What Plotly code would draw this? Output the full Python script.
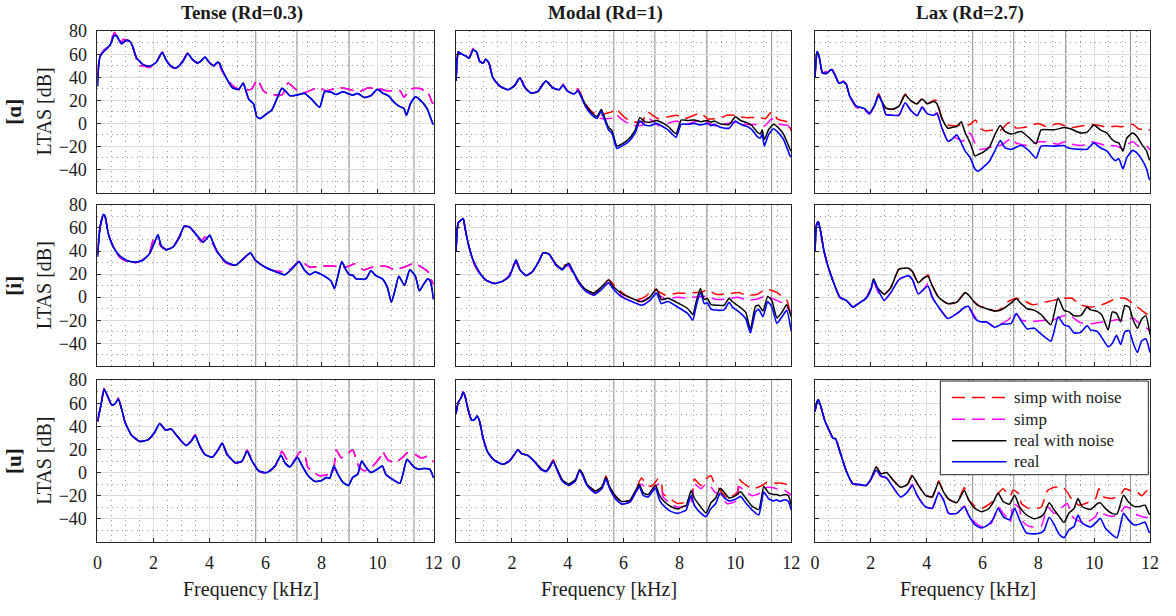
import plotly.graph_objects as go

# ---------------- data ----------------
SERIES_NAMES = ["simp with noise", "simp", "real with noise", "real"]
COL_TITLES = ["Tense (Rd=0.3)", "Modal (Rd=1)", "Lax (Rd=2.7)"]
ROW_LABELS = ["[ɑ]", "[i]", "[u]"]
X_TICKS = [0, 2, 4, 6, 8, 10, 12]
Y_TICKS = [-40, -20, 0, 20, 40, 60, 80]
FREQ_MARKERS = [5.65, 7.12, 8.98, 11.3]

# --- Tense [ɑ]
F_TA_REAL = [0, 0.04, 0.09, 0.21, 0.45, 0.59, 0.68, 0.75, 0.86, 0.92, 1.04, 1.16, 1.25, 1.39, 1.63, 1.86, 2.1, 2.31, 2.45, 2.63, 2.8, 3.04, 3.22, 3.39, 3.57, 3.69, 3.84, 3.98, 4.16, 4.28, 4.36, 4.45, 4.63, 4.81, 5.04, 5.2, 5.28, 5.4, 5.57, 5.69, 5.81, 6.05, 6.22, 6.4, 6.58, 6.7, 6.87, 7.1, 7.4, 7.64, 7.93, 8.11, 8.34, 8.52, 8.76, 8.93, 9.11, 9.29, 9.52, 9.76, 9.99, 10.17, 10.41, 10.58, 10.76, 10.94, 11.03, 11.17, 11.35, 11.53, 11.76, 11.97, 12.0]
TA_REAL = [32, 50, 58, 62, 68, 76, 76, 73, 69, 70, 72, 71, 67, 57, 51, 49.5, 53, 61.5, 55, 49.5, 48, 53.5, 60.5, 55.5, 52.5, 54, 57.5, 53, 50, 53, 52, 46.5, 38, 31, 29.5, 35, 29.7, 21, 17, 5.7, 4.3, 8.5, 11.5, 21, 30.5, 28.3, 24, 24.5, 26, 21, 14, 27.5, 27, 25, 27.5, 26, 24.5, 26, 22.5, 24, 29.5, 26.5, 23.5, 18.5, 15, 13, 7, 17, 23, 20, 13, 0, -1]
TA_REALN = [32, 50, 58, 62, 68, 76, 76, 73, 69, 70, 72, 71, 67, 57, 51, 49.5, 53, 61.5, 55, 49.5, 48, 53.5, 60.5, 55.5, 52.5, 54, 57.5, 53, 50, 53, 52, 46.5, 38, 31, 29.5, 35, 29.7, 21, 17, 5.7, 4.3, 8.5, 11.5, 21, 30.5, 28.3, 24, 24.5, 26, 21, 14, 27.5, 27, 25, 27.5, 26, 24.5, 26, 22.5, 24, 29.5, 26.5, 23.5, 18.5, 15, 13, 7, 17, 23, 20, 13, 0, -1]
F_TA_SIMP = [0, 0.04, 0.09, 0.21, 0.45, 0.6, 0.68, 0.75, 0.86, 0.92, 1.04, 1.16, 1.25, 1.39, 1.5, 1.63, 1.86, 2.1, 2.31, 2.45, 2.63, 2.8, 3.04, 3.22, 3.39, 3.57, 3.69, 3.84, 3.98, 4.16, 4.3, 4.45, 4.57, 4.81, 5.1, 5.5, 5.7, 5.93, 6.1, 6.4, 6.6, 6.8, 7.17, 7.3, 7.87, 8.0, 8.17, 8.58, 8.9, 9.3, 9.45, 9.64, 10.0, 10.2, 10.35, 10.8, 10.94, 11.17, 11.35, 11.59, 11.7, 11.82, 11.94, 12.0]
TA_SIMP = [40, 52, 58, 63, 68, 79, 76, 74, 70, 73, 72, 71, 67, 56, 50, 50, 48.5, 53, 62, 55, 49, 48, 54, 61, 55.5, 52.5, 54, 58, 53, 50, 54, 45, 41, 33, 29, 29.7, 38, 28, 25.5, 24.6, 25, 35, 27.5, 26, 31, 30, 28.3, 31, 30, 27.5, 28.5, 30.6, 30.6, 29, 28.3, 28.3, 22.6, 29.7, 30.5, 29.7, 25.5, 25.5, 18.4, 17]
TA_SIMPN = [40, 52, 58, 63, 68, 79, 76, 74, 70, 73, 72, 71, 67, 56, 50, 50, 48.5, 53, 62, 55, 49, 48, 54, 61, 55.5, 52.5, 54, 58, 53, 50, 54, 45, 41, 33, 29, 29.7, 38, 28, 25.5, 24.6, 25, 35, 27.5, 26, 31, 30, 28.3, 31, 30, 27.5, 28.5, 30.6, 30.6, 29, 28.3, 28.3, 22.6, 29.7, 30.5, 29.7, 25.5, 25.5, 18.4, 17]

# --- Modal [ɑ]
F_MA_REAL = [0, 0.04, 0.08, 0.14, 0.26, 0.38, 0.47, 0.61, 0.73, 0.85, 0.97, 1.06, 1.18, 1.32, 1.56, 1.86, 2.09, 2.29, 2.45, 2.68, 2.92, 3.22, 3.45, 3.69, 3.83, 3.98, 4.22, 4.37, 4.46, 4.63, 4.87, 5.05, 5.2, 5.28, 5.46, 5.58, 5.76, 5.93, 6.17, 6.41, 6.58, 6.76, 6.94, 7.18, 7.35, 7.59, 7.88, 8.06, 8.3, 8.53, 8.77, 9.0, 9.13, 9.24, 9.48, 9.78, 10.0, 10.19, 10.43, 10.6, 10.78, 10.9, 10.96, 11.04, 11.19, 11.37, 11.55, 11.73, 11.96, 12.0]
MA_REAL = [36.8, 55, 62, 61, 59.4, 58, 56.6, 63.6, 62.2, 53.7, 52.3, 55.7, 52.3, 39.6, 32.5, 29.2, 32.5, 39.6, 31.7, 26.3, 27.5, 36.8, 31.1, 29.2, 33.1, 28.3, 25.5, 28.3, 24.1, 15, 7.1, 4.3, 10.5, 5.7, -5.6, -8.4, -21.7, -19.7, -16, -8.4, 2, -1.4, -2, 0, -2, -5.6, -12, -0.8, -0.8, 0, -1.4, 0, -2, -0.8, -3.6, -4.2, 2, -0.8, -2.8, -5.6, -11.2, -12.7, -9, -19.7, -9.8, -4.7, -8.4, -14, -28.2, -29]
MA_REALN = [36.8, 55, 62, 61, 59.4, 58, 56.6, 63.6, 62.2, 53.7, 52.3, 55.7, 52.3, 39.6, 32.5, 29.2, 32.5, 39.6, 31.7, 26.3, 27.5, 36.8, 31.1, 29.2, 33.1, 28.3, 25.5, 28.3, 25, 16.5, 9, 6, 12, 7.5, -3.5, -6, -19.7, -18, -14, -6, 5, 1.5, 1, 2.5, 1, -2.5, -9, 2.9, 2.5, 3, 1.5, 2.5, 1, 2, -0.5, -1, 5.7, 2.5, 0.5, -2, -7.5, -9, -5.5, -14, -5.5, -0.8, -4, -9.5, -22.5, -24]
F_MA_SIMP = [0, 0.04, 0.08, 0.14, 0.26, 0.38, 0.47, 0.61, 0.73, 0.85, 0.97, 1.06, 1.18, 1.32, 1.56, 1.86, 2.09, 2.29, 2.45, 2.68, 2.92, 3.22, 3.45, 3.69, 3.83, 3.98, 4.22, 4.37, 4.46, 4.63, 4.87, 5.05, 5.2, 5.35, 5.58, 5.72, 5.88, 6.05, 6.3, 6.5, 6.68, 6.85, 7.1, 7.25, 7.9, 8.18, 8.77, 9.0, 9.25, 9.5, 9.7, 10.0, 10.2, 10.4, 10.9, 11.07, 11.3, 11.5, 11.6, 11.9, 12.0]
MA_SIMP = [36.8, 55, 62, 61, 59.4, 58, 56.6, 65, 62.2, 53.7, 52.3, 56.5, 52.3, 39.6, 32.5, 29.2, 32.5, 40.5, 31.7, 26.3, 27.5, 37.5, 31.1, 29.2, 34, 28.3, 25.5, 29.5, 25, 15, 8, 5, 4.3, 4, 4.5, 8, 4.5, 1.5, -1.5, -2, -1.5, 5, 1, -2, 2, -1, 3, 1, -2, -1, 0, 1, 0, -1, -1, -2, 4, 0, -1, -2, -10]
MA_SIMPN = [36.8, 55, 62, 61, 59.4, 58, 56.6, 65, 62.2, 53.7, 52.3, 56.5, 52.3, 39.6, 32.5, 29.2, 32.5, 40.5, 31.7, 26.3, 27.5, 37.5, 31.1, 29.2, 34, 28.3, 25.5, 30, 26, 17, 10, 7.5, 7, 8.5, 10, 13, 9, 5, 1.5, 1, 2, 10, 6, 4, 7, 4, 9, 4, 4, 5, 7, 7, 5.5, 5, 5, 4, 10, 4, 3, 1, -7]

# --- Lax [ɑ]
F_LA_REAL = [0, 0.04, 0.08, 0.15, 0.27, 0.41, 0.59, 0.71, 0.86, 1.0, 1.12, 1.24, 1.48, 1.77, 1.95, 2.13, 2.28, 2.42, 2.54, 2.78, 3.01, 3.23, 3.43, 3.66, 3.84, 4.02, 4.26, 4.37, 4.55, 4.76, 4.9, 5.08, 5.24, 5.38, 5.56, 5.73, 5.85, 6.03, 6.26, 6.44, 6.64, 6.8, 7.03, 7.39, 7.68, 7.92, 8.1, 8.57, 8.92, 9.04, 9.16, 9.52, 9.75, 9.99, 10.22, 10.46, 10.64, 10.76, 10.88, 11.03, 11.17, 11.38, 11.52, 11.7, 11.88, 11.97, 12.0]
LA_REAL = [39.6, 55, 62.2, 58, 43.8, 43.3, 46.7, 42.4, 34.8, 35.9, 34, 24, 15, 12.8, 8.5, 15, 24, 17, 7.7, 7.1, 7.1, 17.9, 11.4, 6.6, 14.2, 8.5, 7.1, 8.5, -4.2, -15.5, -14, -9.8, -16.9, -24, -29.6, -39.5, -41.5, -38, -32.4, -24, -14.9, -21.1, -22.5, -18.9, -24, -30.2, -19.7, -19.7, -19.2, -21, -21.7, -22.5, -22.5, -16.9, -21.1, -24, -29.6, -32.4, -30.5, -39.5, -29.6, -23.4, -25.4, -31, -39.5, -48, -49]
LA_REALN = [39.6, 55, 62.2, 58, 43.8, 43.3, 46.7, 42.4, 34.8, 35.9, 34, 24, 15, 12.8, 9, 15.5, 24.6, 18, 13.3, 12.2, 15, 24.6, 19.8, 17, 21.2, 17, 19, 17, 4.3, -4.2, -3.5, -2.8, 1.5, -8, -17, -28.2, -27, -25, -20, -10, -1.9, -7, -9.3, -7, -12.7, -17.7, -5.6, -5.6, -3.6, -4, -4.7, -8.4, -7.6, -1.4, -5.6, -8.4, -14, -16, -16.9, -24, -12.7, -8.4, -11, -18, -24, -31, -32]
F_LA_SIMP = [0, 0.04, 0.08, 0.15, 0.27, 0.41, 0.59, 0.71, 0.86, 1.0, 1.12, 1.24, 1.48, 1.77, 1.95, 2.13, 2.28, 2.42, 2.54, 2.78, 3.01, 3.23, 3.43, 3.66, 3.84, 4.02, 4.26, 4.37, 4.55, 4.76, 5.0, 5.3, 5.55, 5.75, 5.9, 6.1, 6.4, 6.65, 6.9, 7.05, 7.2, 7.6, 8.0, 8.3, 8.7, 8.95, 9.2, 9.6, 9.9, 10.1, 10.4, 10.8, 11.0, 11.2, 11.4, 11.6, 11.9, 12.0]
LA_SIMP = [39.6, 55, 62.2, 58, 43.8, 45, 48, 42.4, 34.8, 37, 34, 24, 14, 11.5, 8, 15, 25, 17, 7.7, 7.1, 7.1, 18, 11.4, 6.6, 14.2, 8.5, 7.1, 9.5, -4, -15, -12, -15.5, -8.4, -18, -22.5, -22, -20, -19, -15, -12.7, -17, -19, -16, -16, -18, -16, -18, -19, -16, -17, -19, -19.5, -22, -18, -16, -20, -20, -23]
LA_SIMPN = [39.6, 55, 62.2, 58, 43.8, 45, 48, 42.4, 34.8, 37, 34, 24, 14, 11.5, 9, 15.5, 26, 18, 13.3, 12.2, 15, 25.5, 19.8, 17, 22, 17, 20, 19.8, 4, -1.4, -2, -1.4, -1, 3, -4, -6.5, -5.6, -6, 0, 1, -4, -2.8, 0, -2.8, 0, -2, -3.5, -2, -1, -1.5, -3, -2.5, -3, -1, -1, -5, -5, -6]

# --- Tense [i]
F_TI_REAL = [0, 0.09, 0.21, 0.27, 0.39, 0.57, 0.8, 1.1, 1.39, 1.63, 1.86, 2.04, 2.16, 2.27, 2.45, 2.69, 2.92, 3.1, 3.28, 3.51, 3.77, 3.89, 4.01, 4.12, 4.28, 4.57, 4.93, 5.22, 5.46, 5.63, 5.99, 6.34, 6.69, 6.93, 7.2, 7.38, 7.58, 7.76, 8.11, 8.34, 8.46, 8.58, 8.72, 8.87, 8.99, 9.11, 9.23, 9.58, 9.76, 9.94, 10.17, 10.35, 10.49, 10.6, 10.76, 10.96, 11.15, 11.35, 11.49, 11.64, 11.79, 11.88, 12.0]
TI_REAL = [35, 60.3, 71.6, 70, 54.7, 43.4, 35.6, 31.3, 30.5, 32.2, 37.8, 47.7, 54.1, 44.8, 41.2, 43.4, 51.9, 61.7, 60.9, 54.7, 47.7, 50.5, 53.8, 47.7, 39.2, 30.8, 27.7, 33.6, 38.4, 32.2, 26, 22.3, 19.5, 24.3, 30.8, 23.7, 19.5, 21.8, 18.1, 13.9, 7.4, 18, 30.8, 23.7, 19.5, 19, 15.9, 15.9, 22.9, 18.7, 15.9, 8.3, -4.4, 4, 18.1, 10.2, 23.7, 18.1, 5.5, 11.1, 15.9, 14, -2.1]
TI_REALN = [35, 60.3, 71.6, 70, 54.7, 43.4, 35.6, 31.3, 30.5, 32.2, 37.8, 47.7, 54.1, 44.8, 41.2, 43.4, 51.9, 61.7, 60.9, 54.7, 47.7, 50.5, 53.8, 47.7, 39.2, 30.8, 27.7, 33.6, 38.4, 32.2, 26, 22.3, 19.5, 24.3, 30.8, 23.7, 19.5, 21.8, 18.1, 13.9, 7.4, 18, 30.8, 23.7, 19.5, 19, 15.9, 15.9, 22.9, 18.7, 15.9, 8.3, -4.4, 4, 18.1, 10.2, 23.7, 18.1, 5.5, 11.1, 15.9, 14, -2.1]
F_TI_SIMP = [0, 0.09, 0.21, 0.27, 0.39, 0.57, 0.8, 1.1, 1.39, 1.63, 1.86, 1.98, 2.1, 2.27, 2.45, 2.69, 2.92, 3.1, 3.28, 3.51, 3.7, 3.82, 3.95, 4.12, 4.28, 4.57, 4.93, 5.22, 5.46, 5.63, 5.99, 6.3, 6.69, 6.93, 7.2, 7.35, 7.58, 8.05, 8.4, 8.8, 9.0, 9.17, 9.5, 9.8, 10.17, 10.4, 10.58, 10.94, 11.3, 11.64, 11.8, 11.88, 12.0]
TI_SIMP = [38, 60.3, 71, 70, 54.7, 43.4, 34.5, 30.5, 30, 32.5, 38.5, 49, 50, 44, 41.2, 43.4, 52.5, 61, 61, 54.7, 48, 52, 51, 46, 39, 30, 27.7, 33.6, 38.4, 32, 26, 23, 22, 25, 31.5, 30, 26, 27, 27, 26, 27, 29, 23.7, 26, 27, 26, 24, 26, 29.3, 25, 22, 17, 11]
TI_SIMPN = [38, 60.3, 71, 70, 54.7, 43.4, 34.5, 30.5, 30, 32.5, 38.5, 49, 50, 44, 41.2, 43.4, 52.5, 61, 61, 54.7, 48, 52, 51, 46, 39, 30, 27.7, 33.6, 38.4, 32, 26, 23, 22, 25, 31.5, 30, 26, 27, 27, 26, 27, 29, 23.7, 26, 27, 26, 24, 26, 29.3, 25, 22, 17, 11]

# --- Modal [i]
F_MI_REAL = [0, 0.08, 0.2, 0.26, 0.32, 0.44, 0.61, 0.85, 1.09, 1.38, 1.68, 1.91, 2.03, 2.15, 2.29, 2.51, 2.74, 2.96, 3.12, 3.33, 3.57, 3.81, 3.9, 4.04, 4.18, 4.4, 4.63, 4.93, 5.22, 5.46, 5.64, 5.94, 6.29, 6.65, 6.94, 7.18, 7.35, 7.59, 7.94, 8.3, 8.48, 8.59, 8.75, 8.89, 9.0, 9.13, 9.36, 9.6, 9.78, 9.9, 10.13, 10.37, 10.54, 10.72, 10.84, 10.99, 11.16, 11.31, 11.49, 11.67, 11.84, 12.0]
MI_REAL = [39.2, 64.5, 67.3, 68.2, 60.3, 46.2, 32.2, 21, 14.5, 11.9, 13.9, 18.1, 25.1, 32.2, 23.7, 18.7, 22.3, 30.8, 38.4, 37.2, 28, 23.7, 26, 28.8, 22.3, 12.5, 5.5, 1.8, 6.9, 12.5, 6.9, 0, -3.7, -7, -2.8, 3.5, -5.6, -3.7, -8.6, -14.2, -19.9, -8.6, 4.1, -5.6, -4.8, -10.4, -11.4, -11, -4.4, -8.6, -12.8, -18.5, -31.1, -12.8, -10.5, -17, -3.8, -8.6, -22.7, -17, -11.4, -29.7]
MI_REALN = [39.2, 64.5, 67.3, 68.2, 60.3, 46.2, 32.2, 21, 14.5, 11.9, 13.9, 18.1, 25.1, 32.2, 23.7, 18.7, 22.3, 30.8, 38.4, 37.5, 28.5, 24.5, 27, 29.5, 23, 13.5, 7, 3.5, 9, 15, 9, 3, -1, -4, 0, 7, -2, -1, -5, -10, -15, -5, 7.5, -2, -1, -6.5, -7, -7, -1, -4, -8, -13, -28, -8, -7, -12, 0.7, -3, -18, -13, -6.6, -17]
F_MI_SIMP = [0, 0.08, 0.2, 0.26, 0.32, 0.44, 0.61, 0.85, 1.09, 1.38, 1.68, 1.91, 2.03, 2.15, 2.29, 2.51, 2.74, 2.96, 3.12, 3.33, 3.57, 3.81, 3.9, 4.04, 4.18, 4.4, 4.63, 4.93, 5.22, 5.46, 5.64, 5.94, 6.2, 6.5, 6.8, 7.1, 7.25, 7.5, 7.9, 8.2, 8.8, 9.0, 9.3, 9.7, 10.1, 10.4, 10.8, 11.1, 11.5, 11.7, 11.85, 12.0]
MI_SIMP = [39.2, 64.5, 67.3, 68.2, 60.3, 46.2, 31, 20, 14.5, 11.9, 13.9, 19, 27, 30, 23.7, 18.7, 22.3, 30.8, 38.4, 37.2, 28, 23.7, 27, 27, 21, 12, 5.5, 1.8, 6.9, 12.5, 8, 1, -3, -4, -2, 4, 2, -1.5, 0, -0.5, 0.5, 1, -2, -1.5, 0, -2.5, -1.5, 1, -3, -5, -8.6, -13]
MI_SIMPN = [39.2, 64.5, 67.3, 68.2, 60.3, 46.2, 31, 20, 14.5, 11.9, 13.9, 19, 27, 30, 23.7, 18.7, 22.3, 30.8, 38.4, 37.5, 28.5, 24.5, 28, 28, 22, 13, 7, 3.5, 9, 15, 11, 4, 0, -2, 1, 6.9, 5, 1.8, 3.5, 3.5, 4.5, 6.3, 2.6, 2.6, 4, 1.8, 2.6, 6.9, 4, 0, -3, -17]

# --- Lax [i]
F_LI_REAL = [0, 0.06, 0.12, 0.2, 0.32, 0.47, 0.65, 0.89, 1.12, 1.36, 1.54, 1.83, 2.01, 2.1, 2.25, 2.48, 2.72, 3.01, 3.35, 3.49, 3.7, 3.9, 4.05, 4.2, 4.43, 4.76, 5.08, 5.38, 5.5, 5.73, 5.91, 6.15, 6.44, 6.68, 7.03, 7.21, 7.39, 7.6, 7.86, 8.1, 8.45, 8.71, 8.92, 9.1, 9.28, 9.52, 9.75, 9.87, 10.11, 10.28, 10.5, 10.65, 10.8, 10.95, 11.1, 11.25, 11.4, 11.55, 11.7, 11.85, 12.0]
LI_REAL = [39.2, 63.1, 65.4, 57.5, 40.6, 26.6, 13.9, 0, -2.8, -8.6, -5.8, -1, 6.9, 14.7, 6.9, -2.8, 4.1, 15.3, 18.7, 15.3, 2.8, 6.9, 9.7, 0, -8.6, -18.5, -14.2, -8.6, -8, -18.5, -21.3, -21.5, -26.3, -23.5, -22.7, -14.2, -20.7, -27.5, -26.9, -32, -38.1, -17, -24, -25.5, -31, -30.5, -24.7, -28.3, -29.7, -35.3, -43, -40, -33, -41, -30, -29, -40, -48, -38, -36, -48]
LI_REALN = [39.2, 63.1, 65.4, 57.5, 40.6, 26.6, 13.9, 0, -2.8, -8.6, -5.8, -1, 7.5, 15.9, 8, 2.6, 8.3, 24.3, 25.1, 22.3, 12.5, 16.7, 18.1, 10, 0, -5.6, -4.4, 4.1, 2, -5, -8, -10, -12, -11, -5, -1.4, -5.6, -10, -11.4, -15, -24, -0.8, -11.4, -12.8, -16.2, -16, -8.6, -11, -12.3, -15.6, -28.3, -12.8, -14, -21.3, -7.2, -8.6, -20, -27, -19, -16, -32.5]
F_LI_SIMP = [0, 0.06, 0.12, 0.2, 0.32, 0.47, 0.65, 0.89, 1.12, 1.36, 1.54, 1.83, 2.01, 2.1, 2.25, 2.48, 2.72, 3.01, 3.35, 3.49, 3.7, 3.9, 4.05, 4.2, 4.43, 4.76, 5.08, 5.38, 5.5, 5.73, 5.91, 6.15, 6.44, 6.68, 6.9, 7.2, 7.4, 7.8, 8.2, 8.5, 8.9, 9.2, 9.5, 9.9, 10.2, 10.5, 10.8, 11.1, 11.4, 11.7, 11.9, 12.0]
LI_SIMP = [39.2, 63.1, 65.4, 57.5, 40.6, 26.6, 13.9, 0, -2.8, -8.6, -5.8, -1, 8, 13, 5, -2.8, 4.1, 15.3, 18.7, 15.3, 2.8, 6.9, 12, 0, -8.6, -18.5, -14.2, -8.6, -8, -17, -21, -21.5, -26, -23, -20, -14, -20, -21, -20, -20, -16, -17, -22, -23, -22, -21, -19.5, -20, -18, -25, -27, -30]
LI_SIMPN = [39.2, 63.1, 65.4, 57.5, 40.6, 26.6, 13.9, 0, -2.8, -8.6, -5.8, -1, 8.5, 14.5, 6, 2.6, 8.3, 24.3, 25.1, 22.3, 12.5, 16.7, 19.5, 10, -0.5, -5.6, -4.4, 4.1, 2, -4.5, -8, -9, -12, -10, -4, -1, -2, -6.6, -4.4, -3, -1, -1, -6.6, -8.6, -7.2, -4.4, -1, -1, -5.6, -11.4, -15, -18]

# --- Tense [u]
F_TU_REAL = [0, 0.12, 0.24, 0.33, 0.51, 0.62, 0.74, 0.86, 0.98, 1.21, 1.51, 1.8, 2.04, 2.22, 2.43, 2.63, 2.86, 3.16, 3.34, 3.49, 3.63, 3.84, 4.1, 4.31, 4.45, 4.63, 4.93, 5.16, 5.34, 5.52, 5.75, 6.05, 6.34, 6.55, 6.69, 6.87, 7.14, 7.28, 7.52, 7.76, 7.99, 8.17, 8.29, 8.44, 8.58, 8.76, 8.96, 9.11, 9.29, 9.43, 9.58, 9.76, 9.99, 10.17, 10.29, 10.52, 10.8, 11.05, 11.29, 11.5, 11.65, 11.86, 12.0]
TU_REAL = [43.8, 58, 72.1, 67.9, 58.5, 59.4, 63.6, 55.1, 43.8, 32.5, 26.9, 28.3, 34.8, 42.4, 36.8, 37.6, 31.1, 23.5, 26.9, 32, 24, 15.6, 13.3, 19.8, 25.5, 15.6, 8.5, 9.9, 18.4, 9.9, 1.5, 0, 5.7, 15, 8.5, 4.9, 13.3, 7.1, -2.8, -7.6, -7, -4.2, -5, 5.7, -1.4, -8.4, -11.2, -4.2, -1.4, 9.9, 4.9, 0, 2.9, 5.7, -1.4, -5.6, -9.3, 11.4, 4.9, 2.9, 3.5, 2.9, -4.7]
TU_REALN = [43.8, 58, 72.1, 67.9, 58.5, 59.4, 63.6, 55.1, 43.8, 32.5, 26.9, 28.3, 34.8, 42.4, 36.8, 37.6, 31.1, 23.5, 26.9, 32, 24, 15.6, 13.3, 19.8, 25.5, 15.6, 8.5, 9.9, 18.4, 9.9, 1.5, 0, 5.7, 15, 8.5, 4.9, 13.3, 7.1, -2.8, -7.6, -7, -4.2, -5, 5.7, -1.4, -8.4, -11.2, -4.2, -1.4, 9.9, 4.9, 0, 2.9, 5.7, -1.4, -5.6, -9.3, 11.4, 4.9, 2.9, 3.5, 2.9, -4.7]
F_TU_SIMP = [0, 0.12, 0.24, 0.33, 0.51, 0.62, 0.74, 0.86, 0.98, 1.21, 1.51, 1.8, 2.04, 2.22, 2.43, 2.63, 2.86, 3.16, 3.34, 3.49, 3.63, 3.84, 4.1, 4.31, 4.45, 4.63, 4.93, 5.16, 5.34, 5.52, 5.75, 6.05, 6.34, 6.58, 6.81, 7.0, 7.23, 7.4, 7.5, 7.64, 7.93, 8.4, 8.52, 8.7, 8.82, 9.11, 9.25, 9.35, 9.52, 9.7, 9.88, 10.11, 10.17, 10.35, 10.58, 10.88, 11.05, 11.23, 11.35, 11.53, 11.65, 11.76, 11.97, 12.0]
TU_SIMP = [45, 58, 73, 67.9, 58.5, 59.4, 64.5, 55.1, 43.8, 32.5, 26.9, 28.3, 34.8, 42.4, 36.8, 37.6, 31.1, 23.5, 27.5, 33, 24, 15.6, 13.3, 19.8, 25.5, 15.6, 8, 9.9, 19.5, 9.9, 1.5, -1, 5.7, 18.4, 9.9, 10, 17.9, 15, 5, 1.5, -2.8, 0, 19.8, 12.8, 14, 19.8, 10, 4.3, 1.5, 3, 7, 14, 18.4, 11.4, 8.5, 12.8, 17, 17, 15.6, 12.8, 13, 14, 9.9, 9]
TU_SIMPN = [45, 58, 73, 67.9, 58.5, 59.4, 64.5, 55.1, 43.8, 32.5, 26.9, 28.3, 34.8, 42.4, 36.8, 37.6, 31.1, 23.5, 27.5, 33, 24, 15.6, 13.3, 19.8, 25.5, 15.6, 8, 9.9, 19.5, 9.9, 1.5, -1, 5.7, 18.4, 9.9, 10, 17.9, 15, 5, 1.5, -2.8, 0, 19.8, 12.8, 14, 19.8, 10, 4.3, 1.5, 3, 7, 14, 18.4, 11.4, 8.5, 12.8, 17, 17, 15.6, 12.8, 13, 14, 9.9, 9]

# --- Modal [u]
F_MU_REAL = [0, 0.08, 0.17, 0.26, 0.32, 0.44, 0.56, 0.67, 0.76, 0.85, 0.97, 1.15, 1.38, 1.68, 1.91, 2.09, 2.21, 2.36, 2.56, 2.77, 3.04, 3.22, 3.33, 3.48, 3.63, 3.81, 4.04, 4.28, 4.42, 4.52, 4.69, 4.99, 5.22, 5.37, 5.48, 5.7, 5.93, 6.23, 6.41, 6.56, 6.7, 6.88, 7.14, 7.29, 7.47, 7.71, 7.94, 8.12, 8.24, 8.42, 8.53, 8.71, 8.95, 9.13, 9.3, 9.46, 9.6, 9.78, 10.01, 10.19, 10.37, 10.6, 10.84, 11.02, 11.19, 11.37, 11.48, 11.6, 11.78, 11.9, 12.0]
MU_REAL = [50.9, 60.8, 64.2, 69.3, 66.4, 53.7, 45.3, 46.1, 48.9, 43.8, 29.7, 17, 10.5, 7.1, 9.9, 15.6, 19.8, 16.2, 15, 10.5, 2.8, 0.8, 3.6, 9.4, 1.5, -7.6, -11.2, -7, 1.5, -1.4, -11.2, -17.7, -14, -5.6, -12.7, -22.5, -27.3, -25.4, -18.3, -12.1, -19.7, -21.1, -13.5, -24, -29.6, -33.8, -35.3, -33.8, -32.4, -19.7, -28.2, -33.8, -38.1, -31, -26.8, -17.7, -21.7, -24.5, -23, -20.6, -26.2, -32.4, -36.7, -16.9, -22.5, -24.5, -23.5, -25, -23.5, -25, -32.4]
MU_REALN = [50.9, 60.8, 64.2, 69.3, 66.4, 53.7, 45.3, 46.1, 48.9, 43.8, 29.7, 17, 10.5, 7.1, 9.9, 15.6, 19.8, 16.2, 15, 10.5, 3.5, 1.5, 4.3, 10, 2.5, -6.5, -10, -6, 2.5, -0.5, -10, -16, -12.5, -4, -11, -20, -25, -24, -16.5, -10, -17.5, -19, -11, -20, -25.5, -29.6, -31.5, -29.3, -28.5, -15.5, -22, -28, -35, -26, -22, -13.5, -17, -22, -20, -16.5, -22, -29, -32, -12, -17.5, -19, -19, -20, -19, -20, -28]
F_MU_SIMP = [0, 0.08, 0.17, 0.26, 0.32, 0.44, 0.56, 0.67, 0.76, 0.85, 0.97, 1.15, 1.38, 1.68, 1.91, 2.09, 2.21, 2.36, 2.56, 2.77, 3.04, 3.22, 3.33, 3.48, 3.63, 3.81, 4.04, 4.28, 4.42, 4.52, 4.69, 4.99, 5.22, 5.37, 5.48, 5.7, 5.93, 6.23, 6.41, 6.64, 6.82, 7.0, 7.24, 7.35, 7.41, 7.65, 7.94, 8.42, 8.53, 8.77, 8.95, 9.13, 9.25, 9.42, 9.72, 10.07, 10.13, 10.25, 10.6, 10.96, 11.13, 11.31, 11.5, 11.78, 12.0]
MU_SIMP = [50.9, 60.8, 64.2, 70, 66.4, 53.7, 45.3, 46.1, 48.9, 43.8, 29.7, 17, 10.5, 7.1, 9.9, 15.6, 20, 16.2, 15, 10.5, 2.8, 0.8, 3.6, 10.5, 1.5, -7.6, -11.2, -7, 1.5, -1.4, -11.2, -17.7, -14, -4.5, -12.7, -22.5, -27.3, -25.4, -18.3, -9.8, -14, -16, -9.8, -12, -21, -26, -30, -27.3, -9.8, -14, -9.8, -12.5, -16.5, -19, -27, -24, -12, -14, -20, -16.9, -12.7, -13, -14, -15.5, -19.7]
MU_SIMPN = [50.9, 60.8, 64.2, 70, 66.4, 53.7, 45.3, 46.1, 48.9, 43.8, 29.7, 17, 10.5, 7.1, 9.9, 15.6, 20, 16.2, 15, 10.5, 3.5, 1.5, 4.3, 11, 2.5, -6.5, -10, -6, 2.5, -0.5, -10, -16, -12.5, -3, -11, -20, -25, -24, -16.5, -4.8, -10.4, -12, -5.6, -8.4, -18.3, -22.5, -26.8, -24, -5.6, -11.2, -5.6, -2.8, -9.8, -14, -22.5, -16.9, -5.6, -8.4, -14, -11.2, -8.4, -9.3, -9, -9.8, -12.7]

# --- Lax [u]
F_LU_REAL = [0, 0.08, 0.12, 0.2, 0.35, 0.53, 0.65, 0.74, 0.89, 1.12, 1.36, 1.6, 1.83, 2.01, 2.19, 2.36, 2.57, 2.78, 3.07, 3.31, 3.49, 3.66, 3.96, 4.2, 4.43, 4.61, 4.79, 5.08, 5.35, 5.5, 5.73, 5.97, 6.21, 6.38, 6.56, 6.74, 6.97, 7.15, 7.33, 7.57, 7.86, 8.1, 8.22, 8.39, 8.57, 8.75, 8.92, 9.1, 9.28, 9.42, 9.57, 9.87, 10.11, 10.22, 10.4, 10.64, 10.82, 11.05, 11.23, 11.41, 11.58, 11.82, 11.97, 12.0]
LU_REAL = [52.9, 61.4, 63, 58, 45.3, 35.4, 29.7, 29.2, 18.4, 1.5, -9.8, -10.4, -11.2, -5.6, 2, -2.8, -4.8, -12.1, -21.1, -16.9, -11.2, -19.7, -29.6, -31, -17.7, -24, -35.3, -35.3, -29.6, -36.7, -45.1, -48, -45.1, -40.3, -31, -38.1, -40.9, -31, -40.9, -52.2, -53, -52, -49.4, -38.6, -45.1, -53.6, -56.4, -49.4, -46.6, -36.7, -43.7, -47.1, -42.3, -39.5, -48, -53.6, -56.4, -35.3, -40.9, -45.1, -45, -42.9, -51.6, -52]
LU_REALN = [52.9, 61.4, 63, 58, 45.3, 35.4, 29.7, 29.2, 18.4, 1.5, -9.8, -10.4, -11.2, -5.6, 4.9, -1, 0, -6, -12.7, -10.4, -2.8, -9.3, -19.7, -21.1, -8.4, -16.9, -23, -26, -15.5, -23.4, -31, -33.8, -31.5, -26, -17.7, -25, -27.3, -19.7, -29.6, -36.5, -40, -38, -35, -26.2, -32.4, -38.1, -43.2, -35, -31, -22.5, -29.6, -31.9, -27, -26.2, -31, -35.3, -35.8, -19.7, -25.4, -29, -29.6, -28.2, -35.8, -36]
F_LU_SIMP = [0, 0.08, 0.12, 0.2, 0.35, 0.53, 0.65, 0.74, 0.89, 1.12, 1.36, 1.6, 1.83, 2.01, 2.19, 2.36, 2.57, 2.78, 3.07, 3.31, 3.49, 3.66, 3.96, 4.2, 4.43, 4.61, 4.79, 5.08, 5.35, 5.5, 5.73, 5.97, 6.32, 6.56, 6.74, 6.85, 7.0, 7.1, 7.33, 7.39, 7.68, 8.1, 8.33, 8.57, 8.87, 9.04, 9.22, 9.46, 9.69, 10.05, 10.17, 10.34, 10.64, 10.93, 11.1, 11.29, 11.5, 11.7, 11.9, 12.0]
LU_SIMP = [52.9, 61.4, 63, 58, 45.3, 35.4, 29.7, 29.2, 18.4, 1.5, -9.8, -10.4, -11.2, -5.6, 1.5, -3.5, -4.8, -12.1, -21.1, -16.9, -10, -19.7, -29.6, -31, -17, -24, -35.3, -35.3, -29, -36.7, -43, -46.6, -43.7, -29.6, -35.3, -38, -43, -26.8, -31, -40.9, -46.6, -46.6, -29.6, -35.3, -29.6, -26.8, -38, -42, -43.7, -38, -33, -36, -38, -35.3, -29.6, -31, -36, -38, -39, -41]
LU_SIMPN = [52.9, 61.4, 63, 58, 45.3, 35.4, 29.7, 29.2, 18.4, 1.5, -9.8, -10.4, -11.2, -5.6, 5.5, -1, 0, -6, -12.7, -10.4, -1.5, -9.3, -19.7, -21.1, -7, -16.9, -23, -26, -13, -23.4, -29, -31, -26, -18, -14, -17, -20, -15, -19, -26.8, -31, -30, -15.5, -12.7, -12.7, -16.9, -24, -28.2, -26.8, -22.5, -14, -21.1, -22.5, -19.7, -14, -15.5, -16, -20, -15.5, -21]

PANELS = [
    [(F_TA_REAL, TA_REAL, TA_REALN, F_TA_SIMP, TA_SIMP, TA_SIMPN),
     (F_MA_REAL, MA_REAL, MA_REALN, F_MA_SIMP, MA_SIMP, MA_SIMPN),
     (F_LA_REAL, LA_REAL, LA_REALN, F_LA_SIMP, LA_SIMP, LA_SIMPN)],
    [(F_TI_REAL, TI_REAL, TI_REALN, F_TI_SIMP, TI_SIMP, TI_SIMPN),
     (F_MI_REAL, MI_REAL, MI_REALN, F_MI_SIMP, MI_SIMP, MI_SIMPN),
     (F_LI_REAL, LI_REAL, LI_REALN, F_LI_SIMP, LI_SIMP, LI_SIMPN)],
    [(F_TU_REAL, TU_REAL, TU_REALN, F_TU_SIMP, TU_SIMP, TU_SIMPN),
     (F_MU_REAL, MU_REAL, MU_REALN, F_MU_SIMP, MU_SIMP, MU_SIMPN),
     (F_LU_REAL, LU_REAL, LU_REALN, F_LU_SIMP, LU_SIMP, LU_SIMPN)],
]

# ---------------- layout constants ----------------
# figure kept a little smaller than the window; positions measured on the
# reference (pixels) are mapped into the figure with a slight uniform squeeze
W, H = 1160, 600


def PX(x):
    return -3.83 + 0.99041 * x


def PY(y):
    return -3.81 + 0.97855 * y


COL_REF = [(102.3, 441.7), (464.3, 802.7), (826.7, 1165.0)]
ROW_REF = [(35.7, 200.7), (213.3, 378.3), (392.3, 557.7)]
TITLE_XC_REF = [248, 615, 983.5]
TITLE_Y_REF = 17
XLABEL_XC_REF = [257.5, 619, 981]
XLABEL_Y_REF = 606
ROWLAB_X_REF = 18
YLAB_X_REF = 48
LEG_BOX_REF = (953.3, 393.3, 1163.3, 489.0)
LEG_ROWS_REF = [410.0, 432.3, 454.3, 475.7]
LEG_LINE_X_REF = (965.0, 1020.0)
LEG_TEXT_X_REF = 1026.0

FONT = "Liberation Serif, Times New Roman, Times, serif"
TXT = "#1a1a1a"
AXC = "#262626"
DASH = "13px,7px"
STYLES = [
    dict(color="#ff0000", width=1.5, dash=DASH),
    dict(color="#ff00ff", width=1.5, dash=DASH),
    dict(color="#000000", width=1.5),
    dict(color="#0000ff", width=1.6),
]
MINOR_X = [i * 0.5 for i in range(25)]
MINOR_Y = [-60 + i * 10 for i in range(15)]

fig = go.Figure()
layout = dict(
    width=W, height=H, margin=dict(l=0, r=0, t=0, b=0, autoexpand=False),
    paper_bgcolor="white", plot_bgcolor="white",
    font=dict(family=FONT, size=18, color=TXT),
    showlegend=False,
)
shapes = []
annotations = []

for r in range(3):
    for c in range(3):
        k = r * 3 + c + 1
        xs = "" if k == 1 else str(k)
        fr, real, realn, fs, simp, simpn = PANELS[r][c]
        series = [(fs, simpn), (fs, simp), (fr, realn), (fr, real)]
        for i, (xv, yv) in enumerate(series):
            fig.add_trace(go.Scatter(
                x=xv, y=yv, mode="lines", name=SERIES_NAMES[i],
                line=dict(STYLES[i], shape="spline", smoothing=0.5),
                xaxis="x" + xs, yaxis="y" + xs,
                showlegend=False, hoverinfo="skip",
            ))
        x0, x1 = PX(COL_REF[c][0]), PX(COL_REF[c][1])
        y0, y1 = PY(ROW_REF[r][0]), PY(ROW_REF[r][1])
        layout["xaxis" + xs] = dict(
            domain=[x0 / W, x1 / W], anchor="y" + xs, range=[0, 12],
            tickmode="array", tickvals=X_TICKS, showticklabels=(r == 2),
            ticks="inside", ticklen=4, tickcolor=AXC, tickwidth=1,
            showline=True, mirror=True, linecolor=AXC, linewidth=1,
            showgrid=True, gridcolor="#dcdcdc", gridwidth=1, zeroline=False,
            minor=dict(tickmode="array", tickvals=MINOR_X, showgrid=True,
                       gridcolor="#9a9a9a", griddash="1px,4px", gridwidth=1),
            tickfont=dict(family=FONT, size=18, color=TXT),
            ticklabelstandoff=4,
        )
        layout["yaxis" + xs] = dict(
            domain=[1 - y1 / H, 1 - y0 / H], anchor="x" + xs, range=[-60, 80],
            tickmode="array", tickvals=Y_TICKS, showticklabels=(c == 0),
            ticks="inside", ticklen=4, tickcolor=AXC, tickwidth=1,
            showline=True, mirror=True, linecolor=AXC, linewidth=1,
            showgrid=True, gridcolor="#dcdcdc", gridwidth=1, zeroline=False,
            minor=dict(tickmode="array", tickvals=MINOR_Y, showgrid=True,
                       gridcolor="#9a9a9a", griddash="1px,4px", gridwidth=1),
            tickfont=dict(family=FONT, size=18, color=TXT),
            ticklabelstandoff=6,
        )
        for fm in FREQ_MARKERS:
            shapes.append(dict(type="line", xref="x" + xs, yref="y" + xs + " domain",
                               x0=fm, x1=fm, y0=0, y1=1, layer="below",
                               line=dict(color="#8c8c8c", width=1)))

for c in range(3):
    annotations.append(dict(text="<b>%s</b>" % COL_TITLES[c],
                            x=PX(TITLE_XC_REF[c]) / W, y=1 - PY(TITLE_Y_REF) / H,
                            xref="paper", yref="paper", showarrow=False,
                            xanchor="center", yanchor="middle",
                            font=dict(family=FONT, size=19, color=TXT)))
    annotations.append(dict(text="Frequency [kHz]",
                            x=PX(XLABEL_XC_REF[c]) / W, y=1 - PY(XLABEL_Y_REF) / H,
                            xref="paper", yref="paper", showarrow=False,
                            xanchor="center", yanchor="middle",
                            font=dict(family=FONT, size=20, color=TXT)))
for r in range(3):
    yc = 1 - PY((ROW_REF[r][0] + ROW_REF[r][1]) / 2) / H
    annotations.append(dict(text="<b>%s</b>" % ROW_LABELS[r], x=PX(ROWLAB_X_REF) / W, y=yc,
                            xref="paper", yref="paper", showarrow=False, textangle=-90,
                            xanchor="center", yanchor="middle",
                            font=dict(family=FONT, size=21, color=TXT)))
    annotations.append(dict(text="LTAS [dB]", x=PX(YLAB_X_REF) / W, y=yc,
                            xref="paper", yref="paper", showarrow=False, textangle=-90,
                            xanchor="center", yanchor="middle",
                            font=dict(family=FONT, size=20, color=TXT)))

# hand-drawn legend box (as in the reference, inside the bottom-right panel)
bx0, by0, bx1, by1 = LEG_BOX_REF
shapes.append(dict(type="rect", xref="paper", yref="paper",
                   x0=PX(bx0) / W, x1=PX(bx1) / W, y0=1 - PY(by1) / H, y1=1 - PY(by0) / H,
                   fillcolor="white", line=dict(color=AXC, width=1), layer="above"))
for i, name in enumerate(SERIES_NAMES):
    yy = 1 - PY(LEG_ROWS_REF[i]) / H
    st = STYLES[i]
    shapes.append(dict(type="line", xref="paper", yref="paper",
                       x0=PX(LEG_LINE_X_REF[0]) / W, x1=PX(LEG_LINE_X_REF[1]) / W, y0=yy, y1=yy,
                       layer="above",
                       line=dict(color=st["color"], width=st["width"], dash=st.get("dash", "solid"))))
    annotations.append(dict(text=name, x=PX(LEG_TEXT_X_REF) / W, y=yy, xref="paper", yref="paper",
                            showarrow=False, xanchor="left", yanchor="middle",
                            font=dict(family=FONT, size=17, color=TXT)))

layout["shapes"] = shapes
layout["annotations"] = annotations
fig.update_layout(**layout)
fig.write_html("out.html")
